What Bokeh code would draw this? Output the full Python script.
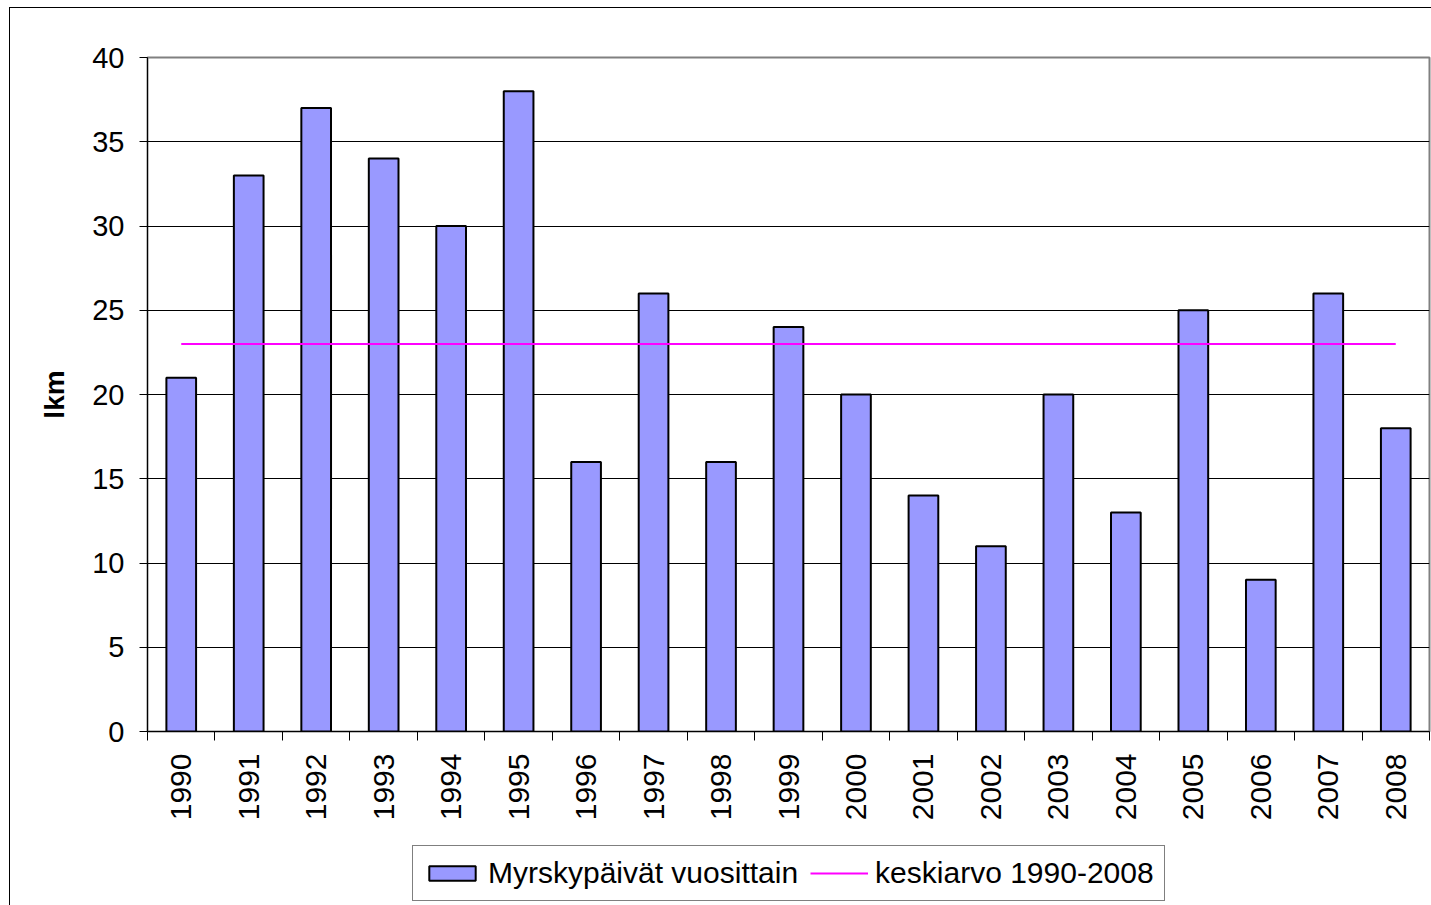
import math
from bokeh.plotting import figure
from bokeh.layouts import column
from bokeh.models import Range1d, FixedTicker, Legend, LegendItem, InlineStyleSheet
from bokeh.embed import file_html
from bokeh.resources import INLINE

years = ["1990", "1991", "1992", "1993", "1994", "1995", "1996", "1997", "1998", "1999",
         "2000", "2001", "2002", "2003", "2004", "2005", "2006", "2007", "2008"]
storm_days = [21, 33, 37, 34, 30, 38, 16, 26, 16, 24, 20, 14, 11, 20, 13, 25, 9, 26, 18]
mean_days = [23, 23, 23, 23, 23, 23, 23, 23, 23, 23, 23, 23, 23, 23, 23, 23, 23, 23, 23]
y_ticks = [0, 5, 10, 15, 20, 25, 30, 35, 40]

centers = [i + 0.5 for i in range(len(years))]
bounds = [float(i) for i in range(len(years) + 1)]

FONT = "Liberation Sans"
BAR_FILL = "#9999FF"
MEAN_COLOR = "#FF00FF"

# ---------------- main chart ----------------
p = figure(width=1431, height=836,
           x_range=Range1d(0, len(years)), y_range=Range1d(0, 40),
           output_backend="svg", toolbar_location=None,
           min_border_left=147, min_border_right=2,
           min_border_top=57, min_border_bottom=105,
           background_fill_color="white", border_fill_color="white")

p.stylesheets = [InlineStyleSheet(css=(
    ":host { position: relative; }"
    ":host::after { content: ''; position: absolute; left: 9px; top: 7px; right: 0px; bottom: 0px;"
    " border-left: 1px solid black; border-top: 1px solid black; pointer-events: none; z-index: 10; }"
))]

p.outline_line_color = "#808080"
p.outline_line_width = 2

bars = p.vbar(x=centers, top=storm_days, width=0.44, fill_color=BAR_FILL,
              line_color="black", line_width=2)
ln = p.line(x=centers, y=mean_days, line_color=MEAN_COLOR, line_width=2)

# x axis
xa = p.xaxis[0]
xa.ticker = FixedTicker(ticks=centers, minor_ticks=bounds)
xa.major_label_overrides = {c: y for c, y in zip(centers, years)}
xa.major_tick_out = 0
xa.major_tick_in = 0
xa.minor_tick_out = 9
xa.minor_tick_in = 0
xa.minor_tick_line_color = "black"
xa.axis_line_color = "black"
xa.major_label_orientation = math.pi / 2
xa.major_label_standoff = 13
xa.major_label_text_font = FONT
xa.major_label_text_font_size = "30px"
xa.major_label_text_color = "black"

# y axis
ya = p.yaxis[0]
ya.ticker = FixedTicker(ticks=y_ticks)
ya.major_tick_out = 8
ya.major_tick_in = 0
ya.minor_tick_out = 0
ya.minor_tick_in = 0
ya.axis_line_color = "black"
ya.major_tick_line_color = "black"
ya.major_label_standoff = 15
ya.major_label_text_font = FONT
ya.major_label_text_font_size = "29px"
ya.major_label_text_color = "black"
ya.axis_label = "lkm"
ya.axis_label_text_font = FONT
ya.axis_label_text_font_style = "bold"
ya.axis_label_text_font_size = "28px"
ya.axis_label_text_color = "black"
ya.axis_label_standoff = 19

p.xgrid.visible = False
p.ygrid.ticker = FixedTicker(ticks=y_ticks)
p.ygrid.grid_line_color = "black"
p.ygrid.grid_line_width = 1

# ---------------- legend strip ----------------
lf = figure(width=1431, height=69, x_range=Range1d(0, len(years)), y_range=Range1d(0, 40),
            output_backend="svg", toolbar_location=None,
            x_axis_location=None, y_axis_location=None,
            min_border_left=0, min_border_right=0, min_border_top=0, min_border_bottom=0,
            background_fill_color="white", border_fill_color="white")
lf.outline_line_color = None
lf.grid.visible = False
lf.stylesheets = [InlineStyleSheet(css=(
    ":host { position: relative; }"
    ":host::after { content: ''; position: absolute; left: 9px; top: 0px; right: 0px; bottom: 0px;"
    " border-left: 1px solid black; pointer-events: none; z-index: 10; }"
))]

# hidden copies of the two series: only their legend entries are shown
lbar = lf.vbar(x=centers, top=storm_days, width=0.44, fill_color=BAR_FILL,
               line_color="black", line_width=2, visible=False)
lline = lf.line(x=centers, y=mean_days, line_color=MEAN_COLOR, line_width=2, visible=False)

legend = Legend(items=[LegendItem(label="Myrskypäivät vuosittain", renderers=[lbar]),
                       LegendItem(label="keskiarvo 1990-2008", renderers=[lline])],
                orientation="horizontal", location=(265, 4),
                label_text_font=FONT, label_text_font_size="30px",
                label_text_color="black",
                glyph_width=58, glyph_height=18, spacing=12, padding=10,
                label_standoff=7, border_line_color="black", border_line_width=1,
                background_fill_color="white", background_fill_alpha=1.0)
lf.add_layout(legend)

layout = column(p, lf, spacing=0)
open("out.html", "w").write(file_html(layout, INLINE))
